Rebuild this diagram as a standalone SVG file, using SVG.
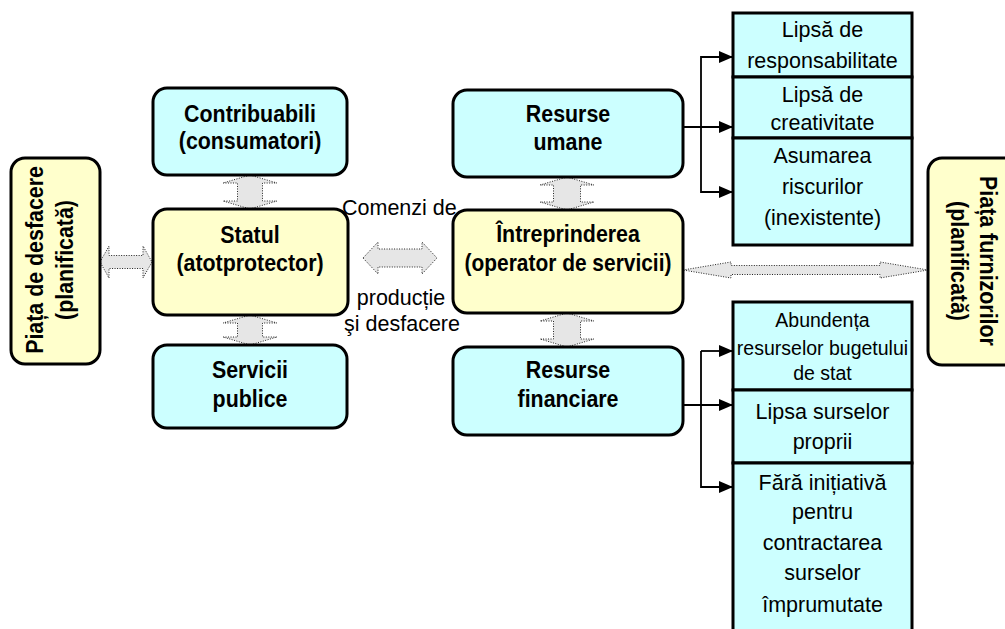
<svg xmlns="http://www.w3.org/2000/svg" width="1005" height="629" viewBox="0 0 1005 629">
<style>
.rb{stroke:#000;stroke-width:3}
.y{fill:#ffffcc}
.c{fill:#ccffff}
.bt{font-family:"Liberation Sans",Arial,sans-serif;font-weight:bold;font-size:23.5px;text-anchor:middle;fill:#000}
.nt{font-family:"Liberation Sans",Arial,sans-serif;font-size:21.5px;text-anchor:middle;fill:#000}
.st{font-family:"Liberation Sans",Arial,sans-serif;font-size:19.5px;text-anchor:middle;fill:#000}
.ga{fill:#e6e6e6;stroke:#222;stroke-width:1;stroke-dasharray:1 1.5}
.ln{fill:none;stroke:#000;stroke-width:1.8}
</style>
<defs>
<marker id="ah" viewBox="0 0 14 12" refX="14" refY="6" markerWidth="14" markerHeight="12" markerUnits="userSpaceOnUse" orient="auto">
<path d="M0,0 L14,6 L0,12 Z" fill="#000"/>
</marker>
</defs>

<g id="connectors">
<path class="ga" d="M100,262 L109,246 L109,255.5 L143,255.5 L143,246 L152,262 L143,278 L143,268.5 L109,268.5 L109,278 Z"/>
<path class="ga" d="M363,258 L378,242 L378,249 L422,249 L422,242 L437,258 L422,274 L422,267 L378,267 L378,274 Z"/>
<path class="ga" d="M683,270 L731,262 L731,265.5 L880,265.5 L880,262 L928,270 L880,278 L880,274.5 L731,274.5 L731,278 Z"/>
<path class="ga" d="M250,175 L277,183 L262.5,183 L262.5,201 L277,201 L250,209 L223,201 L237.5,201 L237.5,183 L223,183 Z"/>
<path class="ga" d="M250,315 L277,323 L262.5,323 L262.5,337 L277,337 L250,345 L223,337 L237.5,337 L237.5,323 L223,323 Z"/>
<path class="ga" d="M567,177 L594,185 L580.5,185 L580.5,202 L594,202 L567,210 L540,202 L553.5,202 L553.5,185 L540,185 Z"/>
<path class="ga" d="M567,313 L594,321 L580.5,321 L580.5,339 L594,339 L567,347 L540,339 L553.5,339 L553.5,321 L540,321 Z"/>
<path class="ln" d="M683,127 L733,127" marker-end="url(#ah)"/>
<path class="ln" d="M733,57 L701,57 L701,192 L733,192" marker-end="url(#ah)"/>
<path class="ln" d="M701,57 L733,57" marker-end="url(#ah)"/>
<path class="ln" d="M683,405 L733,405" marker-end="url(#ah)"/>
<path class="ln" d="M701,351 L701,487 L733,487" marker-end="url(#ah)"/>
<path class="ln" d="M701,351 L733,351" marker-end="url(#ah)"/>
</g>

<g id="piata-desfacere">
<rect class="rb y" x="11" y="158" width="89" height="206" rx="14"/>
<g transform="translate(55,260) rotate(-90)">
<text class="bt" transform="translate(0,-12) scale(0.91,1)">Piața de desfacere</text>
<text class="bt" transform="translate(0,18) scale(0.91,1)">(planificată)</text>
</g>
</g>

<g id="contribuabili">
<rect class="rb c" x="153" y="88" width="194" height="87" rx="14"/>
<text class="bt" transform="translate(250,122) scale(0.91,1)">Contribuabili</text>
<text class="bt" transform="translate(250,149) scale(0.91,1)">(consumatori)</text>
</g>

<g id="statul">
<rect class="rb y" x="153" y="209" width="195" height="106" rx="14"/>
<text class="bt" transform="translate(250,243) scale(0.91,1)">Statul</text>
<text class="bt" transform="translate(250,271) scale(0.91,1)">(atotprotector)</text>
</g>

<g id="servicii-publice">
<rect class="rb c" x="153" y="345" width="194" height="83" rx="14"/>
<text class="bt" transform="translate(250,378) scale(0.91,1)">Servicii</text>
<text class="bt" transform="translate(250,407) scale(0.91,1)">publice</text>
</g>

<g id="resurse-umane">
<rect class="rb c" x="453" y="90" width="230" height="87" rx="14"/>
<text class="bt" transform="translate(568,122) scale(0.91,1)">Resurse</text>
<text class="bt" transform="translate(568,150) scale(0.91,1)">umane</text>
</g>

<g id="intreprinderea">
<rect class="rb y" x="453" y="210" width="230" height="103" rx="14"/>
<text class="bt" transform="translate(568,242) scale(0.91,1)">Întreprinderea</text>
<text class="bt" transform="translate(568,271) scale(0.89,1)">(operator de servicii)</text>
</g>

<g id="resurse-financiare">
<rect class="rb c" x="453" y="347" width="230" height="88" rx="14"/>
<text class="bt" transform="translate(568,378) scale(0.91,1)">Resurse</text>
<text class="bt" transform="translate(568,407) scale(0.91,1)">financiare</text>
</g>

<g id="comenzi-label">
<text class="nt" x="342" y="215" style="text-anchor:start">Comenzi de</text>
<text class="nt" x="401" y="305">producție</text>
<text class="nt" x="402" y="331">şi desfacere</text>
</g>

<g id="lipsa-responsabilitate">
<rect class="rb c" x="733" y="13" width="179" height="64"/>
<text class="nt" x="822.5" y="37">Lipsă de</text>
<text class="nt" x="822.5" y="68">responsabilitate</text>
</g>

<g id="lipsa-creativitate">
<rect class="rb c" x="733" y="77" width="179" height="61"/>
<text class="nt" x="822.5" y="102">Lipsă de</text>
<text class="nt" x="822.5" y="130">creativitate</text>
</g>

<g id="asumarea-riscurilor">
<rect class="rb c" x="733" y="138" width="179" height="107"/>
<text class="nt" x="822.5" y="163">Asumarea</text>
<text class="nt" x="822.5" y="194">riscurilor</text>
<text class="nt" x="822.5" y="225">(inexistente)</text>
</g>

<g id="abundenta">
<rect class="rb c" x="733" y="302" width="179" height="88"/>
<text class="st" x="822.5" y="327">Abundența</text>
<text class="st" x="822.5" y="355">resurselor bugetului</text>
<text class="st" x="822.5" y="380">de stat</text>
</g>

<g id="lipsa-surselor">
<rect class="rb c" x="733" y="390" width="179" height="73"/>
<text class="nt" x="822.5" y="419">Lipsa surselor</text>
<text class="nt" x="822.5" y="449">proprii</text>
</g>

<g id="fara-initiativa">
<rect class="rb c" x="733" y="463" width="179" height="180"/>
<text class="nt" x="822.5" y="490">Fără inițiativă</text>
<text class="nt" x="822.5" y="519">pentru</text>
<text class="nt" x="822.5" y="550">contractarea</text>
<text class="nt" x="822.5" y="580">surselor</text>
<text class="nt" x="822.5" y="612">împrumutate</text>
</g>

<g id="piata-furnizorilor">
<rect class="rb y" x="928" y="158" width="90" height="207" rx="14"/>
<g transform="translate(972,261) rotate(90)">
<text class="bt" transform="translate(0,-8) scale(0.91,1)">Piața furnizorilor</text>
<text class="bt" transform="translate(0,21) scale(0.91,1)">(planificată)</text>
</g>
</g>
</svg>
